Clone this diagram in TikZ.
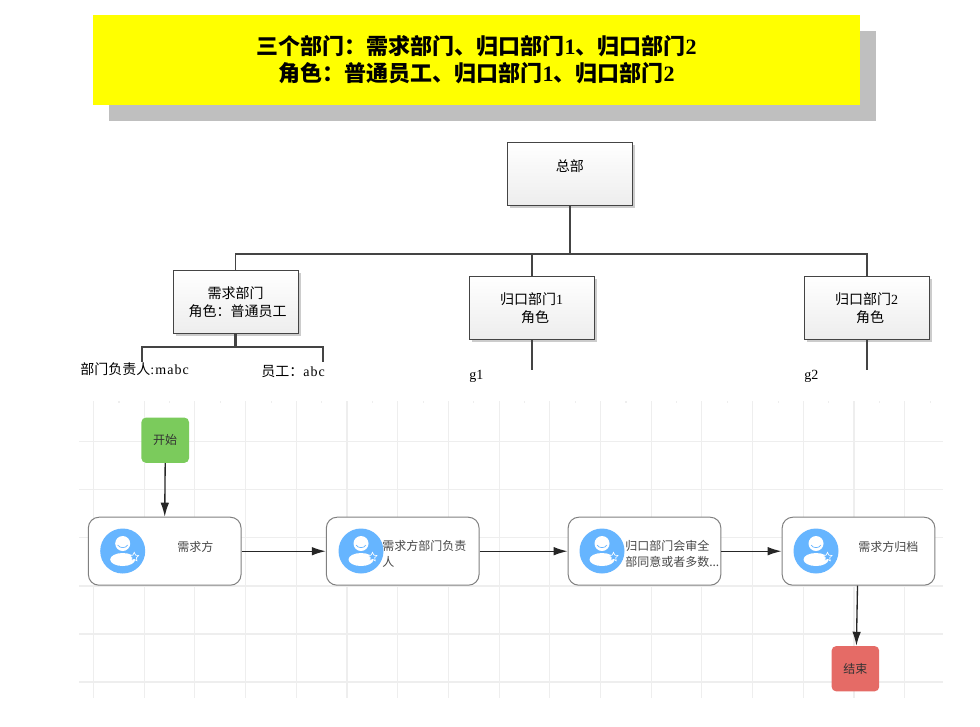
\documentclass[tikz,border=0pt]{standalone}
\usepackage{fontspec}
\setmainfont{Liberation Serif}
\newfontfamily\cjk{Noto Sans CJK SC}
\newfontfamily\latn[LetterSpace=8]{Liberation Serif}
\newcommand{\widecolon}{\char"FF1A\relax}
\usetikzlibrary{arrows.meta,shadows,shapes.geometric}
\definecolor{titleyellow}{RGB}{255,255,0}
\definecolor{avatarblue}{HTML}{66B5FF}
\definecolor{startgreen}{HTML}{7BCB5C}
\definecolor{endred}{HTML}{E56B66}
\definecolor{orgline}{HTML}{444444}
\definecolor{gridgray}{HTML}{EEEEEE}
\tikzset{
  titlebox/.style={fill=titleyellow,minimum width=575.25pt,minimum height=67.5pt,inner sep=0pt,align=center,font=\fontsize{16.5pt}{20.25pt}\selectfont\cjk\bfseries,
    drop shadow={shadow xshift=12pt,shadow yshift=-12pt,fill=black!25,opacity=1}},
  orgbox/.style={draw=orgline,line width=0.7pt,top color=white,bottom color=black!7,minimum width=93.75pt,minimum height=47.25pt,inner sep=0pt,align=center,font=\fontsize{10.5pt}{13.5pt}\selectfont,
    drop shadow={shadow xshift=2pt,shadow yshift=-2pt,fill=black!20,opacity=1}},
  orgtext/.style={inner sep=0pt,anchor=west,font=\fontsize{10.5pt}{13.5pt}\selectfont},
  bigline/.style={draw=orgline,line width=1.6pt},
  smallline/.style={draw=orgline,line width=1.3pt},
  gridline/.style={draw=gridgray,line width=0.85pt},
  stepbox/.style={draw=black!50,line width=0.75pt,rounded corners=8pt,fill=white,minimum width=114.5pt,minimum height=51pt,inner sep=0pt},
  steptext/.style={inner sep=0pt,text=black!72,align=left,font=\fontsize{9pt}{12pt}\selectfont\cjk},
  endbox/.style={rounded corners=3.5pt,inner sep=0pt,minimum width=35.75pt,minimum height=34pt,font=\fontsize{9pt}{12pt}\selectfont\cjk,text=black!80},
  flow/.style={-{Latex[length=10.5pt,width=6.4pt]},line width=1pt,draw=black!85},
  avatar/.pic={
    \fill[avatarblue] (0,0) circle (22.5);
    \fill[white] (0,-7.5) circle (7.5);
    \draw[avatarblue,line width=0.5pt] (-5,-6) .. controls (-3,-2.5) and (3,-2.5) .. (5,-6);
    \fill[white] (0,8.5) ellipse (12.5 and 6.5);
    \node[star,star points=5,star point ratio=2,draw=white,fill=avatarblue,line width=0.5pt,inner sep=0pt,minimum size=7pt] (star) at (11.5,6) {};
  }
}
\begin{document}
\begin{tikzpicture}[x=0.75pt,y=-0.75pt]
\useasboundingbox (0,0) rectangle (980,726);
% title
\node[titlebox] (title) at (476.5,60) {三个部门\widecolon 需求部门、归口部门{\rmfamily\bfseries 1}、归口部门{\rmfamily\bfseries 2}\\角色\widecolon 普通员工、归口部门{\rmfamily\bfseries 1}、归口部门{\rmfamily\bfseries 2}};
% org chart
\node[orgbox] (hq) at (569.9,173.5) {{\cjk 总部}\\[-3pt]\phantom{\cjk 部}};
\node[orgbox] (dept) at (235.5,301.8) {{\cjk 需求部门}\\\hspace*{3pt}{\cjk 角色\widecolon 普通员工}};
\node[orgbox] (g1) at (531.7,307.7) {{\cjk 归口部门}1\\\hspace*{5pt}{\cjk 角色}};
\node[orgbox] (g2) at (866.7,307.7) {{\cjk 归口部门}2\\\hspace*{5pt}{\cjk 角色}};
\coordinate (busl) at (235.5,254);
\coordinate (busr) at (866.7,254);
\coordinate (deptbus) at (235.5,347);
\coordinate (mgrtop) at (142,347);
\coordinate (mgrend) at (142,362);
\coordinate (stafftop) at (323,347);
\coordinate (staffend) at (323,362);
\coordinate (g1end) at (531.7,370);
\coordinate (g2end) at (866.7,370);
\draw[bigline] (hq.south) -- (hq.south |- busl);
\draw[smallline] (dept.north) -- (busl) -- (busr) -- (g2.north);
\draw[smallline] (g1.north) -- (g1.north |- busl);
\draw[bigline] (dept.south) -- (deptbus);
\draw[smallline] (mgrend) -- (mgrtop) -- (stafftop) -- (staffend);
\draw[smallline] (g1.south) -- (g1end);
\draw[smallline] (g2.south) -- (g2end);
\node[orgtext] (mgr) at (80,369) {{\cjk 部门负责人}{\latn :mabc}};
\node[orgtext] (staff) at (261,372) {{\cjk 员工\widecolon}{\latn abc}};
\node[orgtext] (g1name) at (469,376) {g1};
\node[orgtext] (g2name) at (804,376) {g2};
% grid
\foreach \i in {0,...,16} {
  \draw[gridline] ({93.5+50.7*\i},401) -- ({93.5+50.7*\i},698);
}
\foreach \j in {441.7,489.7,537.7,586,634,682} {
  \draw[gridline] (79,\j) -- (943,\j);
}
\foreach \i in {0,...,16} {
  \draw[gridline] ({119+50.7*\i},401) -- ({119+50.7*\i},403);
}
% flow
\node[endbox,fill=startgreen] (start) at (165.2,440.2) {开始};
\node[stepbox] (s1) at (164.7,551.2) {};
\node[stepbox] (s2) at (402.7,551.2) {};
\node[stepbox] (s3) at (644.5,551.2) {};
\node[stepbox] (s4) at (858.5,551.2) {};
\node[endbox,fill=endred] (end) at (855.4,668.7) {结束};
\pic (a1) at (122.7,551) {avatar};
\pic (a2) at (361,551) {avatar};
\pic (a3) at (602,551) {avatar};
\pic (a4) at (816,551) {avatar};
\node[steptext,anchor=west] (t1) at (177,547) {需求方};
\node[steptext,anchor=north west] (t2) at (382,540) {需求方部门负责\\人};
\node[steptext,anchor=north west] (t3) at (625,540) {归口部门会审全\\部同意或者多数...};
\node[steptext,anchor=west] (t4) at (858,547) {需求方归档};
\draw[flow] (start.south) -- (s1.north);
\draw[flow] (s1.east) -- (s2.west);
\draw[flow] (s2.east) -- (s3.west);
\draw[flow] (s3.east) -- (s4.west);
\draw[flow] ([xshift=-0.75pt]s4.south) -- ([xshift=0.75pt]end.north);
\end{tikzpicture}
\end{document}
